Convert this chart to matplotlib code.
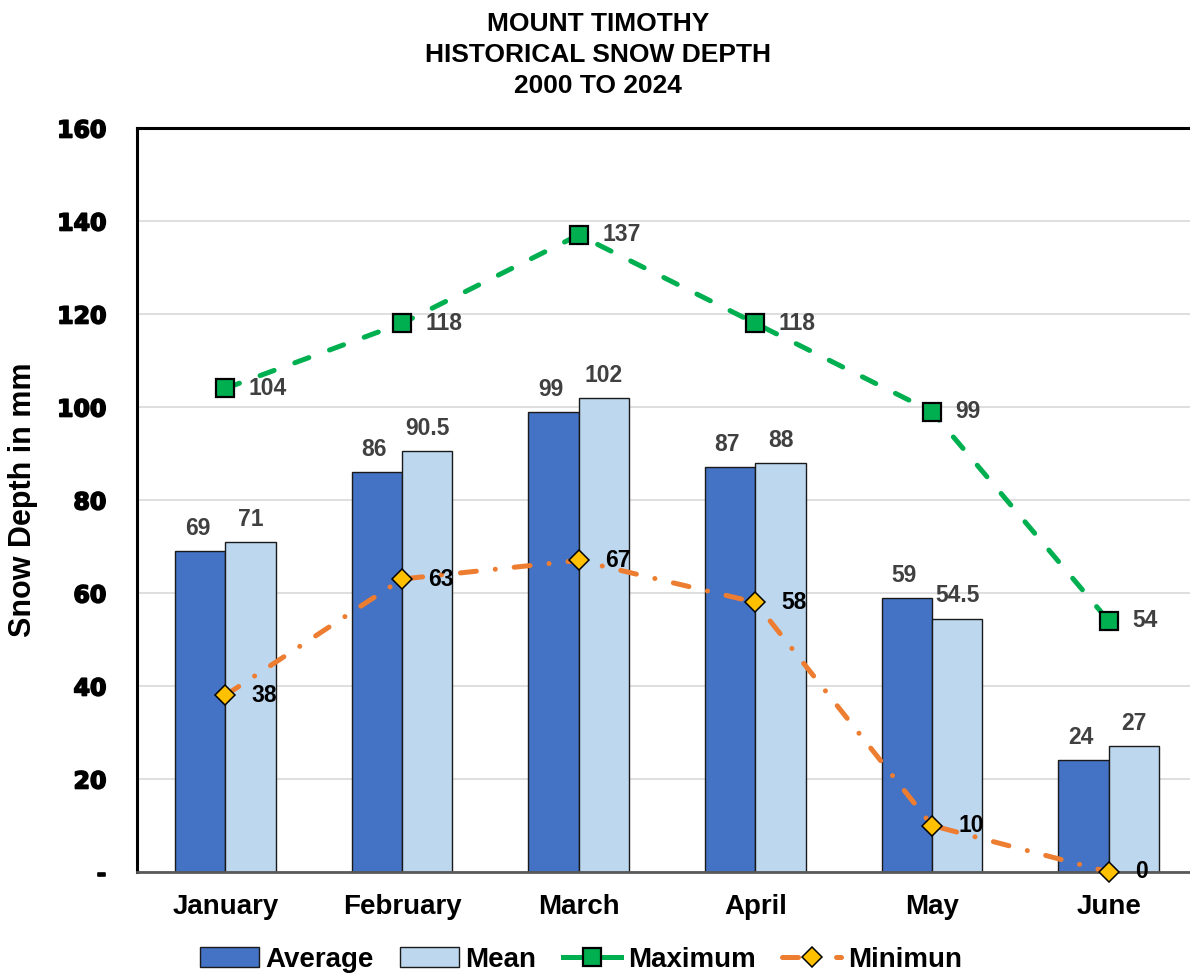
import matplotlib
matplotlib.use("Agg")
import matplotlib.pyplot as plt
import matplotlib.patheffects as pe
import numpy as np
from matplotlib.lines import Line2D
from matplotlib.patches import Patch

months = ["January", "February", "March", "April", "May", "June"]
average = [69, 86, 99, 87, 59, 24]
mean = [71, 90.5, 102, 88, 54.5, 27]
maximum = [104, 118, 137, 118, 99, 54]
minimum = [38, 63, 67, 58, 10, 0]
yticks = [0, 20, 40, 60, 80, 100, 120, 140, 160]
ytick_labels = ["-", "20", "40", "60", "80", "100", "120", "140", "160"]

C_AVG = "#4472C4"
C_MEAN = "#BDD7EE"
C_MAX = "#00B050"
C_MIN = "#ED7D31"
C_MIN_MK = "#FFC000"
C_LBL = "#404040"

SANS = ["Liberation Sans", "DejaVu Sans"]
MAX_STYLE = (0, (3.0, 4.4))
MIN_STYLE = (0, (3.2, 3.8, 0.01, 3.8))

fig = plt.figure(figsize=(11.9, 9.73), dpi=100)
ax = fig.add_axes([137 / 1190, 1 - 872 / 973, 1060 / 1190, 744 / 973])

x = np.arange(len(months))
bw = 0.285
ax.bar(x - bw / 2, average, bw, color=C_AVG, edgecolor="#1a1a1a", linewidth=1, zorder=2)
ax.bar(x + bw / 2, mean, bw, color=C_MEAN, edgecolor="#1a1a1a", linewidth=1, zorder=2)

ax.plot(x, maximum, color=C_MAX, lw=3.6, linestyle=MAX_STYLE, dash_capstyle="round",
        marker="s", markersize=13.5, markerfacecolor=C_MAX, markeredgecolor="black",
        markeredgewidth=1.6, zorder=4)
ax.plot(x, minimum, color=C_MIN, lw=3.6, linestyle=MIN_STYLE, dash_capstyle="round",
        marker="D", markersize=10.5, markerfacecolor=C_MIN_MK, markeredgecolor="black",
        markeredgewidth=1.1, zorder=4, clip_on=False)

for xi, v in zip(x, average):
    ax.annotate(f"{v:g}", (xi - bw / 2, v), xytext=(-2, 8), textcoords="offset points",
                ha="center", va="bottom", fontsize=16.5, fontweight="bold", color=C_LBL,
                family=SANS, zorder=5)
for xi, v in zip(x, mean):
    ax.annotate(f"{v:g}", (xi + bw / 2, v), xytext=(0, 8), textcoords="offset points",
                ha="center", va="bottom", fontsize=16.5, fontweight="bold", color=C_LBL,
                family=SANS, zorder=5)
for xi, v in zip(x, maximum):
    ax.annotate(f"{v:g}", (xi, v), xytext=(17, 0), textcoords="offset points",
                ha="left", va="center", fontsize=16.5, fontweight="bold", color=C_LBL,
                family=SANS, zorder=5)
for xi, v in zip(x, minimum):
    ax.annotate(f"{v:g}", (xi, v), xytext=(19, 0), textcoords="offset points",
                ha="left", va="center", fontsize=16.5, fontweight="bold", color="black",
                family=SANS, zorder=5, annotation_clip=False)

ax.set_xlim(-0.5, 5.5)
ax.set_ylim(0, 160)
ax.set_yticks(yticks)
ax.set_yticklabels(ytick_labels, fontsize=17, fontweight="heavy", family=["DejaVu Sans"])
for t in ax.get_yticklabels():
    t.set_path_effects([pe.withStroke(linewidth=1.2, foreground="black")])
ax.set_xticks(x)
ax.set_xticklabels(months, fontsize=20, fontweight="bold", family=SANS)
ax.tick_params(axis="both", length=0)
ax.tick_params(axis="y", pad=22)
ax.tick_params(axis="x", pad=16)
ax.yaxis.grid(True, color="#D9D9D9", lw=1.2, zorder=0)
ax.set_axisbelow(True)

for s in ["top", "left"]:
    ax.spines[s].set_color("black")
    ax.spines[s].set_linewidth(2.2)
ax.spines["bottom"].set_color("#595959")
ax.spines["bottom"].set_linewidth(2)
ax.spines["right"].set_visible(False)

ax.set_ylabel("Snow Depth in mm", fontsize=22, fontweight="bold", family=SANS)
ax.yaxis.set_label_coords(-(137 - 38) / 1060, 0.5)

fig.text(0.5025, 1 - 12 / 973, "MOUNT TIMOTHY\nHISTORICAL SNOW DEPTH\n2000 TO 2024",
         ha="center", va="top", fontsize=19, fontweight="bold", family=SANS,
         linespacing=1.38)

handles = [
    Patch(facecolor=C_AVG, edgecolor="#1a1a1a", linewidth=1),
    Patch(facecolor=C_MEAN, edgecolor="#1a1a1a", linewidth=1),
    Line2D([], [], color=C_MAX, lw=3.6, marker="s", markersize=13.5, markerfacecolor=C_MAX,
           markeredgecolor="black", markeredgewidth=1.6),
    Line2D([], [], color=C_MIN, lw=3.6, linestyle=MIN_STYLE, dash_capstyle="round",
           marker="D", markersize=10.5, markerfacecolor=C_MIN_MK, markeredgecolor="black",
           markeredgewidth=1.1),
]
fig.legend(handles, ["Average", "Mean", "Maximum", "Minimun"], loc="center",
           bbox_to_anchor=(581 / 1190, 1 - 960 / 973), ncol=4, frameon=False,
           prop={"size": 20, "weight": "bold", "family": SANS},
           handlelength=2.1, handleheight=0.75, handletextpad=0.25, columnspacing=0.95,
           borderpad=0)

fig.savefig("out.png", dpi=100)
